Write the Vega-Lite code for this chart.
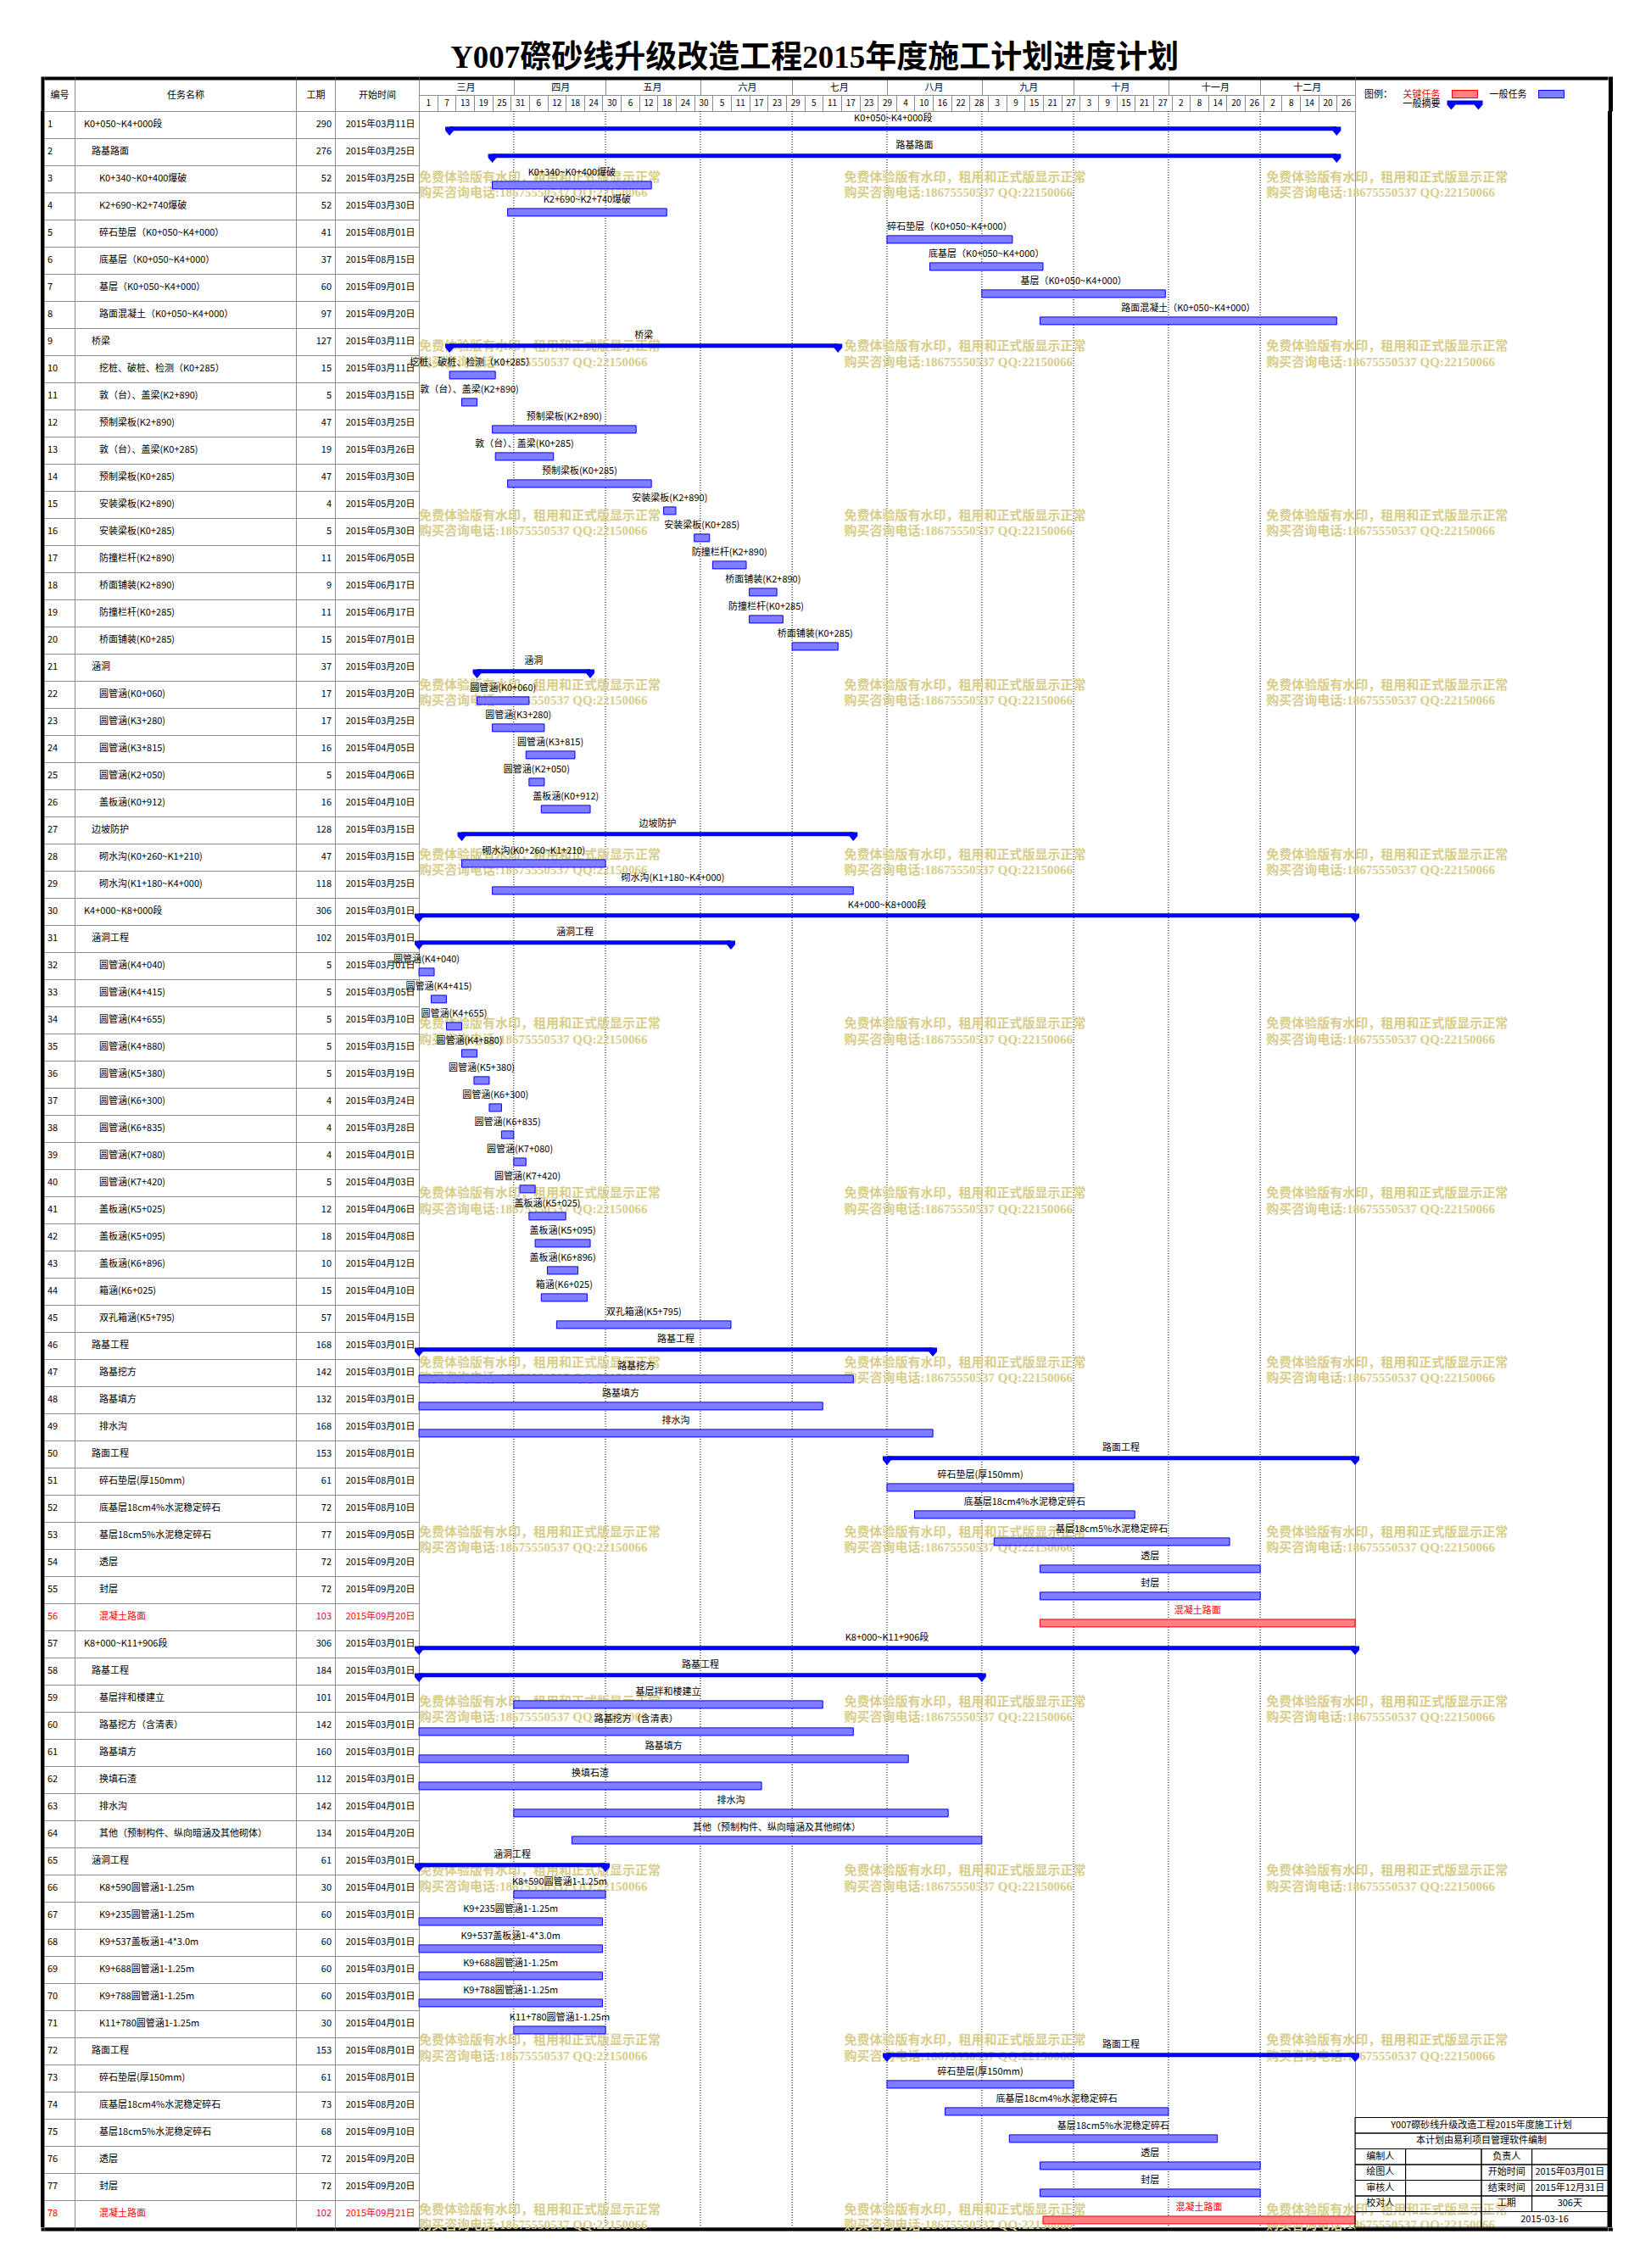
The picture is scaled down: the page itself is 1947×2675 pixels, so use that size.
{
"$schema":"https://vega.github.io/schema/vega-lite/v6.json",
"background":"white",
"padding":{"left":48,"top":49,"right":20,"bottom":20},
"title":{"text":"Y007磜砂线升级改造工程2015年度施工计划进度计划","fontSize":37,"font":"Liberation Serif, Noto Sans CJK SC","fontWeight":"bold","anchor":"middle","offset":0,"dx":-14,"color":"#000000"},
"config":{"font":"Noto Sans CJK SC","view":{"stroke":"#8c8c8c","strokeWidth":1},"concat":{"spacing":0},"text":{"fontSize":11,"color":"#000000"}},
"datasets":{
"tasks":[
{"id":1,"name":"K0+050~K4+000段","dur":290,"start":"2015-03-11","end":"2015-12-26","lvl":0,"kind":"summary"},
{"id":2,"name":"路基路面","dur":276,"start":"2015-03-25","end":"2015-12-26","lvl":1,"kind":"summary"},
{"id":3,"name":"K0+340~K0+400爆破","dur":52,"start":"2015-03-25","end":"2015-05-16","lvl":2,"kind":"task"},
{"id":4,"name":"K2+690~K2+740爆破","dur":52,"start":"2015-03-30","end":"2015-05-21","lvl":2,"kind":"task"},
{"id":5,"name":"碎石垫层（K0+050~K4+000）","dur":41,"start":"2015-08-01","end":"2015-09-11","lvl":2,"kind":"task"},
{"id":6,"name":"底基层（K0+050~K4+000）","dur":37,"start":"2015-08-15","end":"2015-09-21","lvl":2,"kind":"task"},
{"id":7,"name":"基层（K0+050~K4+000）","dur":60,"start":"2015-09-01","end":"2015-10-31","lvl":2,"kind":"task"},
{"id":8,"name":"路面混凝土（K0+050~K4+000）","dur":97,"start":"2015-09-20","end":"2015-12-26","lvl":2,"kind":"task"},
{"id":9,"name":"桥梁","dur":127,"start":"2015-03-11","end":"2015-07-16","lvl":1,"kind":"summary"},
{"id":10,"name":"挖桩、破桩、检测（K0+285）","dur":15,"start":"2015-03-11","end":"2015-03-26","lvl":2,"kind":"task"},
{"id":11,"name":"敦（台）、盖梁(K2+890)","dur":5,"start":"2015-03-15","end":"2015-03-20","lvl":2,"kind":"task"},
{"id":12,"name":"预制梁板(K2+890)","dur":47,"start":"2015-03-25","end":"2015-05-11","lvl":2,"kind":"task"},
{"id":13,"name":"敦（台）、盖梁(K0+285)","dur":19,"start":"2015-03-26","end":"2015-04-14","lvl":2,"kind":"task"},
{"id":14,"name":"预制梁板(K0+285)","dur":47,"start":"2015-03-30","end":"2015-05-16","lvl":2,"kind":"task"},
{"id":15,"name":"安装梁板(K2+890)","dur":4,"start":"2015-05-20","end":"2015-05-24","lvl":2,"kind":"task"},
{"id":16,"name":"安装梁板(K0+285)","dur":5,"start":"2015-05-30","end":"2015-06-04","lvl":2,"kind":"task"},
{"id":17,"name":"防撞栏杆(K2+890)","dur":11,"start":"2015-06-05","end":"2015-06-16","lvl":2,"kind":"task"},
{"id":18,"name":"桥面铺装(K2+890)","dur":9,"start":"2015-06-17","end":"2015-06-26","lvl":2,"kind":"task"},
{"id":19,"name":"防撞栏杆(K0+285)","dur":11,"start":"2015-06-17","end":"2015-06-28","lvl":2,"kind":"task"},
{"id":20,"name":"桥面铺装(K0+285)","dur":15,"start":"2015-07-01","end":"2015-07-16","lvl":2,"kind":"task"},
{"id":21,"name":"涵洞","dur":37,"start":"2015-03-20","end":"2015-04-26","lvl":1,"kind":"summary"},
{"id":22,"name":"圆管涵(K0+060)","dur":17,"start":"2015-03-20","end":"2015-04-06","lvl":2,"kind":"task"},
{"id":23,"name":"圆管涵(K3+280)","dur":17,"start":"2015-03-25","end":"2015-04-11","lvl":2,"kind":"task"},
{"id":24,"name":"圆管涵(K3+815)","dur":16,"start":"2015-04-05","end":"2015-04-21","lvl":2,"kind":"task"},
{"id":25,"name":"圆管涵(K2+050)","dur":5,"start":"2015-04-06","end":"2015-04-11","lvl":2,"kind":"task"},
{"id":26,"name":"盖板涵(K0+912)","dur":16,"start":"2015-04-10","end":"2015-04-26","lvl":2,"kind":"task"},
{"id":27,"name":"边坡防护","dur":128,"start":"2015-03-15","end":"2015-07-21","lvl":1,"kind":"summary"},
{"id":28,"name":"砌水沟(K0+260~K1+210)","dur":47,"start":"2015-03-15","end":"2015-05-01","lvl":2,"kind":"task"},
{"id":29,"name":"砌水沟(K1+180~K4+000)","dur":118,"start":"2015-03-25","end":"2015-07-21","lvl":2,"kind":"task"},
{"id":30,"name":"K4+000~K8+000段","dur":306,"start":"2015-03-01","end":"2016-01-01","lvl":0,"kind":"summary"},
{"id":31,"name":"涵洞工程","dur":102,"start":"2015-03-01","end":"2015-06-11","lvl":1,"kind":"summary"},
{"id":32,"name":"圆管涵(K4+040)","dur":5,"start":"2015-03-01","end":"2015-03-06","lvl":2,"kind":"task"},
{"id":33,"name":"圆管涵(K4+415)","dur":5,"start":"2015-03-05","end":"2015-03-10","lvl":2,"kind":"task"},
{"id":34,"name":"圆管涵(K4+655)","dur":5,"start":"2015-03-10","end":"2015-03-15","lvl":2,"kind":"task"},
{"id":35,"name":"圆管涵(K4+880)","dur":5,"start":"2015-03-15","end":"2015-03-20","lvl":2,"kind":"task"},
{"id":36,"name":"圆管涵(K5+380)","dur":5,"start":"2015-03-19","end":"2015-03-24","lvl":2,"kind":"task"},
{"id":37,"name":"圆管涵(K6+300)","dur":4,"start":"2015-03-24","end":"2015-03-28","lvl":2,"kind":"task"},
{"id":38,"name":"圆管涵(K6+835)","dur":4,"start":"2015-03-28","end":"2015-04-01","lvl":2,"kind":"task"},
{"id":39,"name":"圆管涵(K7+080)","dur":4,"start":"2015-04-01","end":"2015-04-05","lvl":2,"kind":"task"},
{"id":40,"name":"圆管涵(K7+420)","dur":5,"start":"2015-04-03","end":"2015-04-08","lvl":2,"kind":"task"},
{"id":41,"name":"盖板涵(K5+025)","dur":12,"start":"2015-04-06","end":"2015-04-18","lvl":2,"kind":"task"},
{"id":42,"name":"盖板涵(K5+095)","dur":18,"start":"2015-04-08","end":"2015-04-26","lvl":2,"kind":"task"},
{"id":43,"name":"盖板涵(K6+896)","dur":10,"start":"2015-04-12","end":"2015-04-22","lvl":2,"kind":"task"},
{"id":44,"name":"箱涵(K6+025)","dur":15,"start":"2015-04-10","end":"2015-04-25","lvl":2,"kind":"task"},
{"id":45,"name":"双孔箱涵(K5+795)","dur":57,"start":"2015-04-15","end":"2015-06-11","lvl":2,"kind":"task"},
{"id":46,"name":"路基工程","dur":168,"start":"2015-03-01","end":"2015-08-16","lvl":1,"kind":"summary"},
{"id":47,"name":"路基挖方","dur":142,"start":"2015-03-01","end":"2015-07-21","lvl":2,"kind":"task"},
{"id":48,"name":"路基填方","dur":132,"start":"2015-03-01","end":"2015-07-11","lvl":2,"kind":"task"},
{"id":49,"name":"排水沟","dur":168,"start":"2015-03-01","end":"2015-08-16","lvl":2,"kind":"task"},
{"id":50,"name":"路面工程","dur":153,"start":"2015-08-01","end":"2016-01-01","lvl":1,"kind":"summary"},
{"id":51,"name":"碎石垫层(厚150mm)","dur":61,"start":"2015-08-01","end":"2015-10-01","lvl":2,"kind":"task"},
{"id":52,"name":"底基层18cm4%水泥稳定碎石","dur":72,"start":"2015-08-10","end":"2015-10-21","lvl":2,"kind":"task"},
{"id":53,"name":"基层18cm5%水泥稳定碎石","dur":77,"start":"2015-09-05","end":"2015-11-21","lvl":2,"kind":"task"},
{"id":54,"name":"透层","dur":72,"start":"2015-09-20","end":"2015-12-01","lvl":2,"kind":"task"},
{"id":55,"name":"封层","dur":72,"start":"2015-09-20","end":"2015-12-01","lvl":2,"kind":"task"},
{"id":56,"name":"混凝土路面","dur":103,"start":"2015-09-20","end":"2016-01-01","lvl":2,"kind":"critical"},
{"id":57,"name":"K8+000~K11+906段","dur":306,"start":"2015-03-01","end":"2016-01-01","lvl":0,"kind":"summary"},
{"id":58,"name":"路基工程","dur":184,"start":"2015-03-01","end":"2015-09-01","lvl":1,"kind":"summary"},
{"id":59,"name":"基层拌和楼建立","dur":101,"start":"2015-04-01","end":"2015-07-11","lvl":2,"kind":"task"},
{"id":60,"name":"路基挖方（含清表）","dur":142,"start":"2015-03-01","end":"2015-07-21","lvl":2,"kind":"task"},
{"id":61,"name":"路基填方","dur":160,"start":"2015-03-01","end":"2015-08-08","lvl":2,"kind":"task"},
{"id":62,"name":"换填石渣","dur":112,"start":"2015-03-01","end":"2015-06-21","lvl":2,"kind":"task"},
{"id":63,"name":"排水沟","dur":142,"start":"2015-04-01","end":"2015-08-21","lvl":2,"kind":"task"},
{"id":64,"name":"其他（预制构件、纵向暗涵及其他砌体）","dur":134,"start":"2015-04-20","end":"2015-09-01","lvl":2,"kind":"task"},
{"id":65,"name":"涵洞工程","dur":61,"start":"2015-03-01","end":"2015-05-01","lvl":1,"kind":"summary"},
{"id":66,"name":"K8+590圆管涵1-1.25m","dur":30,"start":"2015-04-01","end":"2015-05-01","lvl":2,"kind":"task"},
{"id":67,"name":"K9+235圆管涵1-1.25m","dur":60,"start":"2015-03-01","end":"2015-04-30","lvl":2,"kind":"task"},
{"id":68,"name":"K9+537盖板涵1-4*3.0m","dur":60,"start":"2015-03-01","end":"2015-04-30","lvl":2,"kind":"task"},
{"id":69,"name":"K9+688圆管涵1-1.25m","dur":60,"start":"2015-03-01","end":"2015-04-30","lvl":2,"kind":"task"},
{"id":70,"name":"K9+788圆管涵1-1.25m","dur":60,"start":"2015-03-01","end":"2015-04-30","lvl":2,"kind":"task"},
{"id":71,"name":"K11+780圆管涵1-1.25m","dur":30,"start":"2015-04-01","end":"2015-05-01","lvl":2,"kind":"task"},
{"id":72,"name":"路面工程","dur":153,"start":"2015-08-01","end":"2016-01-01","lvl":1,"kind":"summary"},
{"id":73,"name":"碎石垫层(厚150mm)","dur":61,"start":"2015-08-01","end":"2015-10-01","lvl":2,"kind":"task"},
{"id":74,"name":"底基层18cm4%水泥稳定碎石","dur":73,"start":"2015-08-20","end":"2015-11-01","lvl":2,"kind":"task"},
{"id":75,"name":"基层18cm5%水泥稳定碎石","dur":68,"start":"2015-09-10","end":"2015-11-17","lvl":2,"kind":"task"},
{"id":76,"name":"透层","dur":72,"start":"2015-09-20","end":"2015-12-01","lvl":2,"kind":"task"},
{"id":77,"name":"封层","dur":72,"start":"2015-09-20","end":"2015-12-01","lvl":2,"kind":"task"},
{"id":78,"name":"混凝土路面","dur":102,"start":"2015-09-21","end":"2016-01-01","lvl":2,"kind":"critical"}
],
"months":[
{"m":"2015-03-01","n":"三月"},{"m":"2015-04-01","n":"四月"},{"m":"2015-05-01","n":"五月"},{"m":"2015-06-01","n":"六月"},{"m":"2015-07-01","n":"七月"},
{"m":"2015-08-01","n":"八月"},{"m":"2015-09-01","n":"九月"},{"m":"2015-10-01","n":"十月"},{"m":"2015-11-01","n":"十一月"},{"m":"2015-12-01","n":"十二月"}
],
"wm":[
{"c":"2015-03-01","i":1},{"c":"2015-03-01","i":2},{"c":"2015-03-01","i":3},{"c":"2015-03-01","i":4},{"c":"2015-03-01","i":5},{"c":"2015-03-01","i":6},{"c":"2015-03-01","i":7},{"c":"2015-03-01","i":8},{"c":"2015-03-01","i":9},{"c":"2015-03-01","i":10},{"c":"2015-03-01","i":11},{"c":"2015-03-01","i":12},{"c":"2015-03-01","i":13},
{"c":"2015-07-18","i":1},{"c":"2015-07-18","i":2},{"c":"2015-07-18","i":3},{"c":"2015-07-18","i":4},{"c":"2015-07-18","i":5},{"c":"2015-07-18","i":6},{"c":"2015-07-18","i":7},{"c":"2015-07-18","i":8},{"c":"2015-07-18","i":9},{"c":"2015-07-18","i":10},{"c":"2015-07-18","i":11},{"c":"2015-07-18","i":12},{"c":"2015-07-18","i":13},
{"c":"2015-12-03","i":1},{"c":"2015-12-03","i":2},{"c":"2015-12-03","i":3},{"c":"2015-12-03","i":4},{"c":"2015-12-03","i":5},{"c":"2015-12-03","i":6},{"c":"2015-12-03","i":7},{"c":"2015-12-03","i":8},{"c":"2015-12-03","i":9},{"c":"2015-12-03","i":10},{"c":"2015-12-03","i":11},{"c":"2015-12-03","i":12},{"c":"2015-12-03","i":13}
],
"ib":[
{"t":"Y007磜砂线升级改造工程2015年度施工计划","c0":0,"c1":10,"r0":0,"r1":1},
{"t":"本计划由易利项目管理软件编制","c0":0,"c1":10,"r0":1,"r1":2},
{"t":"编制人","c0":0,"c1":2,"r0":2,"r1":3},{"t":"","c0":2,"c1":5,"r0":2,"r1":3},{"t":"负责人","c0":5,"c1":7,"r0":2,"r1":3},{"t":"","c0":7,"c1":10,"r0":2,"r1":3},
{"t":"绘图人","c0":0,"c1":2,"r0":3,"r1":4},{"t":"","c0":2,"c1":5,"r0":3,"r1":4},{"t":"开始时间","c0":5,"c1":7,"r0":3,"r1":4},{"t":"2015年03月01日","c0":7,"c1":10,"r0":3,"r1":4},
{"t":"审核人","c0":0,"c1":2,"r0":4,"r1":5},{"t":"","c0":2,"c1":5,"r0":4,"r1":5},{"t":"结束时间","c0":5,"c1":7,"r0":4,"r1":5},{"t":"2015年12月31日","c0":7,"c1":10,"r0":4,"r1":5},
{"t":"校对人","c0":0,"c1":2,"r0":5,"r1":6},{"t":"","c0":2,"c1":5,"r0":5,"r1":6},{"t":"工期","c0":5,"c1":7,"r0":5,"r1":6},{"t":"306天","c0":7,"c1":10,"r0":5,"r1":6},
{"t":"","c0":0,"c1":5,"r0":6,"r1":7},{"t":"2015-03-16","c0":5,"c1":10,"r0":6,"r1":7}
]
},
"bounds":"flush",
"spacing":0,
"hconcat":[
{"width":4,"height":2496,"view":{"fill":"#000000","stroke":null},"data":{"values":[{}]},
 "layer":[
  {"mark":{"type":"rule","opacity":0},"encoding":{"x":{"datum":0,"type":"quantitative","scale":{"domain":[0,1],"nice":false,"zero":false},"axis":{"orient":"top","values":[0.5],"ticks":true,"tickSize":41,"tickWidth":4,"tickColor":"#000000","labels":false,"domain":false,"title":null,"grid":false}}}},
  {"mark":{"type":"rule","opacity":0},"encoding":{"x":{"datum":0,"type":"quantitative","scale":{"domain":[0,1],"nice":false,"zero":false},"axis":{"orient":"bottom","values":[0.5],"ticks":true,"tickSize":4,"tickWidth":4,"tickColor":"#000000","labels":false,"domain":false,"title":null,"grid":false}}}}
 ],
 "resolve":{"scale":{"x":"independent"},"axis":{"x":"independent"}}},
{"width":36,"height":2496,
 "layer":[
  {"data":{"name":"tasks"},"mark":{"type":"text","align":"left","dx":-14},
   "encoding":{"y":{"field":"id","type":"ordinal","scale":{"type":"band","paddingInner":0,"paddingOuter":0},"axis":{"grid":true,"tickBand":"extent","gridColor":"#8c8c8c","labels":false,"ticks":false,"domain":false,"title":null}},
   "text":{"field":"id"},"color":{"condition":{"test":"datum.kind === 'critical'","value":"#ff0000"},"value":"#000000"}}},
  {"data":{"values":[{}]},"mark":{"type":"rule","opacity":0},"encoding":{"x":{"datum":0,"type":"quantitative","scale":{"domain":[0,1],"nice":false,"zero":false},"axis":{"orient":"top","title":"编号","titleFontSize":11,"titleFontWeight":"normal","titleColor":"#000000","titleBaseline":"middle","titleAlign":"center","titleAnchor":"middle","titleY":-18.5,"values":[0,1],"labels":false,"ticks":true,"tickSize":37,"tickColor":"#8c8c8c","domain":false,"grid":false}}}},
  {"data":{"values":[{}]},"mark":{"type":"rule","opacity":0},"encoding":{"x":{"datum":0,"type":"quantitative","scale":{"domain":[0,1],"nice":false,"zero":false},"axis":{"orient":"top","offset":39,"domain":true,"domainColor":"#000000","domainWidth":4,"ticks":false,"labels":false,"title":null,"grid":false}}}},
  {"data":{"values":[{}]},"mark":{"type":"rule","opacity":0},"encoding":{"x":{"datum":0,"type":"quantitative","scale":{"domain":[0,1],"nice":false,"zero":false},"axis":{"orient":"bottom","offset":2,"domain":true,"domainColor":"#000000","domainWidth":4,"ticks":false,"labels":false,"title":null,"grid":false}}}}
 ],
 "resolve":{"scale":{"x":"independent"},"axis":{"x":"independent"}}},
{"width":261,"height":2496,
 "layer":[
  {"data":{"name":"tasks"},
   "encoding":{"y":{"field":"id","type":"ordinal","scale":{"type":"band","paddingInner":0,"paddingOuter":0},"axis":{"grid":true,"tickBand":"extent","gridColor":"#8c8c8c","labels":false,"ticks":false,"domain":false,"title":null}},
   "text":{"field":"name"},"color":{"condition":{"test":"datum.kind === 'critical'","value":"#ff0000"},"value":"#000000"}},
   "layer":[
    {"transform":[{"filter":"datum.lvl === 0"}],"mark":{"type":"text","align":"left","dx":-119.5}},
    {"transform":[{"filter":"datum.lvl === 1"}],"mark":{"type":"text","align":"left","dx":-110.5}},
    {"transform":[{"filter":"datum.lvl === 2"}],"mark":{"type":"text","align":"left","dx":-101.5}}
   ]},
  {"data":{"values":[{}]},"mark":{"type":"rule","opacity":0},"encoding":{"x":{"datum":0,"type":"quantitative","scale":{"domain":[0,1],"nice":false,"zero":false},"axis":{"orient":"top","title":"任务名称","titleFontSize":11,"titleFontWeight":"normal","titleColor":"#000000","titleBaseline":"middle","titleAlign":"center","titleAnchor":"middle","titleY":-18.5,"values":[0,1],"labels":false,"ticks":true,"tickSize":37,"tickColor":"#8c8c8c","domain":false,"grid":false}}}},
  {"data":{"values":[{}]},"mark":{"type":"rule","opacity":0},"encoding":{"x":{"datum":0,"type":"quantitative","scale":{"domain":[0,1],"nice":false,"zero":false},"axis":{"orient":"top","offset":39,"domain":true,"domainColor":"#000000","domainWidth":4,"ticks":false,"labels":false,"title":null,"grid":false}}}},
  {"data":{"values":[{}]},"mark":{"type":"rule","opacity":0},"encoding":{"x":{"datum":0,"type":"quantitative","scale":{"domain":[0,1],"nice":false,"zero":false},"axis":{"orient":"bottom","offset":2,"domain":true,"domainColor":"#000000","domainWidth":4,"ticks":false,"labels":false,"title":null,"grid":false}}}}
 ],
 "resolve":{"scale":{"x":"independent"},"axis":{"x":"independent"}}},
{"width":46,"height":2496,
 "layer":[
  {"data":{"name":"tasks"},"mark":{"type":"text","align":"right","dx":19},
   "encoding":{"y":{"field":"id","type":"ordinal","scale":{"type":"band","paddingInner":0,"paddingOuter":0},"axis":{"grid":true,"tickBand":"extent","gridColor":"#8c8c8c","labels":false,"ticks":false,"domain":false,"title":null}},
   "text":{"field":"dur"},"color":{"condition":{"test":"datum.kind === 'critical'","value":"#ff0000"},"value":"#000000"}}},
  {"data":{"values":[{}]},"mark":{"type":"rule","opacity":0},"encoding":{"x":{"datum":0,"type":"quantitative","scale":{"domain":[0,1],"nice":false,"zero":false},"axis":{"orient":"top","title":"工期","titleFontSize":11,"titleFontWeight":"normal","titleColor":"#000000","titleBaseline":"middle","titleAlign":"center","titleAnchor":"middle","titleY":-18.5,"values":[0,1],"labels":false,"ticks":true,"tickSize":37,"tickColor":"#8c8c8c","domain":false,"grid":false}}}},
  {"data":{"values":[{}]},"mark":{"type":"rule","opacity":0},"encoding":{"x":{"datum":0,"type":"quantitative","scale":{"domain":[0,1],"nice":false,"zero":false},"axis":{"orient":"top","offset":39,"domain":true,"domainColor":"#000000","domainWidth":4,"ticks":false,"labels":false,"title":null,"grid":false}}}},
  {"data":{"values":[{}]},"mark":{"type":"rule","opacity":0},"encoding":{"x":{"datum":0,"type":"quantitative","scale":{"domain":[0,1],"nice":false,"zero":false},"axis":{"orient":"bottom","offset":2,"domain":true,"domainColor":"#000000","domainWidth":4,"ticks":false,"labels":false,"title":null,"grid":false}}}}
 ],
 "resolve":{"scale":{"x":"independent"},"axis":{"x":"independent"}}},
{"width":99,"height":2496,
 "layer":[
  {"data":{"name":"tasks","format":{"parse":{"start":"date","end":"date"}}},"mark":{"type":"text","align":"right","dx":45},
   "encoding":{"y":{"field":"id","type":"ordinal","scale":{"type":"band","paddingInner":0,"paddingOuter":0},"axis":{"grid":true,"tickBand":"extent","gridColor":"#8c8c8c","labels":false,"ticks":false,"domain":false,"title":null}},
   "text":{"field":"start","type":"temporal","timeUnit":"utcyearmonthdate","format":"%Y年%m月%d日"},"color":{"condition":{"test":"datum.kind === 'critical'","value":"#ff0000"},"value":"#000000"}}},
  {"data":{"values":[{}]},"mark":{"type":"rule","opacity":0},"encoding":{"x":{"datum":0,"type":"quantitative","scale":{"domain":[0,1],"nice":false,"zero":false},"axis":{"orient":"top","title":"开始时间","titleFontSize":11,"titleFontWeight":"normal","titleColor":"#000000","titleBaseline":"middle","titleAlign":"center","titleAnchor":"middle","titleY":-18.5,"values":[0,1],"labels":false,"ticks":true,"tickSize":37,"tickColor":"#8c8c8c","domain":false,"grid":false}}}},
  {"data":{"values":[{}]},"mark":{"type":"rule","opacity":0},"encoding":{"x":{"datum":0,"type":"quantitative","scale":{"domain":[0,1],"nice":false,"zero":false},"axis":{"orient":"top","offset":39,"domain":true,"domainColor":"#000000","domainWidth":4,"ticks":false,"labels":false,"title":null,"grid":false}}}},
  {"data":{"values":[{}]},"mark":{"type":"rule","opacity":0},"encoding":{"x":{"datum":0,"type":"quantitative","scale":{"domain":[0,1],"nice":false,"zero":false},"axis":{"orient":"bottom","offset":2,"domain":true,"domainColor":"#000000","domainWidth":4,"ticks":false,"labels":false,"title":null,"grid":false}}}}
 ],
 "resolve":{"scale":{"x":"independent"},"axis":{"x":"independent"}}},
{"width":1104,"height":2496,
 "layer":[
  {"data":{"values":[{}]},"mark":{"type":"rule","opacity":0},"encoding":{"x":{"datum":{"year":2015,"month":3,"date":1,"utc":true},"type":"temporal","scale":{"type":"utc","nice":false,"domain":[{"year":2015,"month":3,"date":1,"utc":true},{"year":2016,"month":1,"date":1,"utc":true}]},
   "axis":{"orient":"top","values":[
    {"year":2015,"month":3,"date":1,"utc":true},{"year":2015,"month":3,"date":7,"utc":true},{"year":2015,"month":3,"date":13,"utc":true},{"year":2015,"month":3,"date":19,"utc":true},{"year":2015,"month":3,"date":25,"utc":true},{"year":2015,"month":3,"date":31,"utc":true},
    {"year":2015,"month":4,"date":6,"utc":true},{"year":2015,"month":4,"date":12,"utc":true},{"year":2015,"month":4,"date":18,"utc":true},{"year":2015,"month":4,"date":24,"utc":true},{"year":2015,"month":4,"date":30,"utc":true},
    {"year":2015,"month":5,"date":6,"utc":true},{"year":2015,"month":5,"date":12,"utc":true},{"year":2015,"month":5,"date":18,"utc":true},{"year":2015,"month":5,"date":24,"utc":true},{"year":2015,"month":5,"date":30,"utc":true},
    {"year":2015,"month":6,"date":5,"utc":true},{"year":2015,"month":6,"date":11,"utc":true},{"year":2015,"month":6,"date":17,"utc":true},{"year":2015,"month":6,"date":23,"utc":true},{"year":2015,"month":6,"date":29,"utc":true},
    {"year":2015,"month":7,"date":5,"utc":true},{"year":2015,"month":7,"date":11,"utc":true},{"year":2015,"month":7,"date":17,"utc":true},{"year":2015,"month":7,"date":23,"utc":true},{"year":2015,"month":7,"date":29,"utc":true},
    {"year":2015,"month":8,"date":4,"utc":true},{"year":2015,"month":8,"date":10,"utc":true},{"year":2015,"month":8,"date":16,"utc":true},{"year":2015,"month":8,"date":22,"utc":true},{"year":2015,"month":8,"date":28,"utc":true},
    {"year":2015,"month":9,"date":3,"utc":true},{"year":2015,"month":9,"date":9,"utc":true},{"year":2015,"month":9,"date":15,"utc":true},{"year":2015,"month":9,"date":21,"utc":true},{"year":2015,"month":9,"date":27,"utc":true},
    {"year":2015,"month":10,"date":3,"utc":true},{"year":2015,"month":10,"date":9,"utc":true},{"year":2015,"month":10,"date":15,"utc":true},{"year":2015,"month":10,"date":21,"utc":true},{"year":2015,"month":10,"date":27,"utc":true},
    {"year":2015,"month":11,"date":2,"utc":true},{"year":2015,"month":11,"date":8,"utc":true},{"year":2015,"month":11,"date":14,"utc":true},{"year":2015,"month":11,"date":20,"utc":true},{"year":2015,"month":11,"date":26,"utc":true},
    {"year":2015,"month":12,"date":2,"utc":true},{"year":2015,"month":12,"date":8,"utc":true},{"year":2015,"month":12,"date":14,"utc":true},{"year":2015,"month":12,"date":20,"utc":true},{"year":2015,"month":12,"date":26,"utc":true},
    {"year":2016,"month":1,"date":1,"utc":true}],
    "labelExpr":"utcyear(datum.value) > 2015 ? '' : '' + utcdate(datum.value)","tickSize":19,"tickColor":"#8c8c8c","tickWidth":1,"domain":false,"grid":false,"labelFontSize":10,"labelColor":"#000000","labelOffset":10.8,"labelPadding":-9.5,"labelBaseline":"middle","labelAlign":"center","labelAngle":0,"labelOverlap":false,"labelBound":false,"labelFlush":false,"title":null}}}},
  {"data":{"values":[{}]},"mark":{"type":"rule","opacity":0},"encoding":{"x":{"datum":{"year":2015,"month":3,"date":1,"utc":true},"type":"temporal","scale":{"type":"utc","nice":false,"domain":[{"year":2015,"month":3,"date":1,"utc":true},{"year":2016,"month":1,"date":1,"utc":true}]},
   "axis":{"orient":"top","offset":19,"values":[
    {"year":2015,"month":3,"date":1,"utc":true},{"year":2015,"month":4,"date":1,"utc":true},{"year":2015,"month":5,"date":1,"utc":true},{"year":2015,"month":6,"date":1,"utc":true},{"year":2015,"month":7,"date":1,"utc":true},
    {"year":2015,"month":8,"date":1,"utc":true},{"year":2015,"month":9,"date":1,"utc":true},{"year":2015,"month":10,"date":1,"utc":true},{"year":2015,"month":11,"date":1,"utc":true},{"year":2015,"month":12,"date":1,"utc":true},
    {"year":2016,"month":1,"date":1,"utc":true}],
    "labelExpr":"utcyear(datum.value) > 2015 ? '' : ['一月','二月','三月','四月','五月','六月','七月','八月','九月','十月','十一月','十二月'][utcmonth(datum.value)]",
    "tickSize":18,"tickColor":"#8c8c8c","tickWidth":1,"domain":true,"domainColor":"#8c8c8c","domainWidth":1,"grid":false,"labelFontSize":11,"labelColor":"#000000","labelOffset":55,"labelPadding":-9,"labelBaseline":"middle","labelAlign":"center","labelAngle":0,"labelOverlap":false,"labelBound":false,"labelFlush":false,"title":null}}}},
  {"data":{"values":[{}]},"mark":{"type":"rule","opacity":0},"encoding":{"x":{"datum":{"year":2015,"month":3,"date":1,"utc":true},"type":"temporal","scale":{"type":"utc","nice":false,"domain":[{"year":2015,"month":3,"date":1,"utc":true},{"year":2016,"month":1,"date":1,"utc":true}]},"axis":{"orient":"top","offset":39,"domain":true,"domainColor":"#000000","domainWidth":4,"ticks":false,"labels":false,"title":null,"grid":false}}}},
  {"data":{"values":[{}]},"mark":{"type":"rule","opacity":0},"encoding":{"x":{"datum":{"year":2015,"month":3,"date":1,"utc":true},"type":"temporal","scale":{"type":"utc","nice":false,"domain":[{"year":2015,"month":3,"date":1,"utc":true},{"year":2016,"month":1,"date":1,"utc":true}]},"axis":{"orient":"bottom","offset":2,"domain":true,"domainColor":"#000000","domainWidth":4,"ticks":false,"labels":false,"title":null,"grid":false}}}},
  {"data":{"name":"months","format":{"parse":{"m":"date"}}},"transform":[{"filter":"datum.n !== '三月'"}],"mark":{"type":"rule","color":"#000000","strokeDash":[1,2],"strokeWidth":1},
   "encoding":{"x":{"field":"m","type":"temporal","scale":{"type":"utc","nice":false,"domain":[{"year":2015,"month":3,"date":1,"utc":true},{"year":2016,"month":1,"date":1,"utc":true}]},"axis":null}}},
  {"data":{"name":"wm","format":{"parse":{"c":"date"}}},"mark":{"type":"text","align":"left","baseline":"top","fontSize":15,"fontWeight":"bold","font":"Liberation Serif, Noto Sans CJK SC","color":"#d9cd8b","lineBreak":"\n","lineHeight":18.3},
   "encoding":{"x":{"field":"c","type":"temporal","scale":{"type":"utc","nice":false,"domain":[{"year":2015,"month":3,"date":1,"utc":true},{"year":2016,"month":1,"date":1,"utc":true}]},"axis":null},
   "y":{"field":"i","type":"quantitative","scale":{"domain":[0.647,13.14],"reverse":true,"zero":false,"nice":false},"axis":null},
   "text":{"value":"免费体验版有水印，租用和正式版显示正常\n购买咨询电话:18675550537 QQ:22150066"}}},
  {"data":{"name":"tasks","format":{"parse":{"start":"date","end":"date"}}},
   "layer":[
    {"transform":[{"filter":"datum.kind !== 'summary'"}],"mark":{"type":"bar","size":9,"yOffset":7.4,"strokeWidth":1},
     "encoding":{"x":{"field":"start","type":"temporal","scale":{"type":"utc","nice":false,"domain":[{"year":2015,"month":3,"date":1,"utc":true},{"year":2016,"month":1,"date":1,"utc":true}]},"axis":null},"x2":{"field":"end"},
     "y":{"field":"id","type":"ordinal","scale":{"type":"band","paddingInner":0,"paddingOuter":0},"axis":null},
     "fill":{"condition":{"test":"datum.kind === 'critical'","value":"#ff8080"},"value":"#8080ff"},
     "stroke":{"condition":{"test":"datum.kind === 'critical'","value":"#ff0000"},"value":"#0000ff"}}},
    {"transform":[{"filter":"datum.kind === 'summary'"}],"mark":{"type":"bar","size":5,"yOffset":4.75,"color":"#0000ff"},
     "encoding":{"x":{"field":"start","type":"temporal","scale":{"type":"utc","nice":false,"domain":[{"year":2015,"month":3,"date":1,"utc":true},{"year":2016,"month":1,"date":1,"utc":true}]},"axis":null},"x2":{"field":"end"},
     "y":{"field":"id","type":"ordinal","scale":{"type":"band","paddingInner":0,"paddingOuter":0},"axis":null}}},
    {"transform":[{"filter":"datum.kind === 'summary'"},{"fold":["start","end"],"as":["k","d"]}],
     "mark":{"type":"point","shape":"M-1,-0.47H1V0.47L0,1.67L-1,0.47Z","size":100,"filled":true,"color":"#0000ff","opacity":1,"strokeWidth":0,"yOffset":4.75},
     "encoding":{"x":{"field":"d","type":"temporal","scale":{"type":"utc","nice":false,"domain":[{"year":2015,"month":3,"date":1,"utc":true},{"year":2016,"month":1,"date":1,"utc":true}]},"axis":null},
     "y":{"field":"id","type":"ordinal","scale":{"type":"band","paddingInner":0,"paddingOuter":0},"axis":null}}},
    {"transform":[{"fold":["start","end"],"as":["k","d"]},{"aggregate":[{"op":"mean","field":"d","as":"mid"}],"groupby":["id","name","kind"]}],
     "mark":{"type":"text","fontSize":11,"yOffset":-7},
     "encoding":{"x":{"field":"mid","type":"temporal","scale":{"type":"utc","nice":false,"domain":[{"year":2015,"month":3,"date":1,"utc":true},{"year":2016,"month":1,"date":1,"utc":true}]},"axis":null},
     "y":{"field":"id","type":"ordinal","scale":{"type":"band","paddingInner":0,"paddingOuter":0},"axis":null},
     "text":{"field":"name"},"color":{"condition":{"test":"datum.kind === 'critical'","value":"#ff0000"},"value":"#000000"}}}
   ]}
 ],
 "resolve":{"scale":{"x":"independent","y":"independent"},"axis":{"x":"independent"}}},
{"width":298,"height":2496,"view":{"stroke":null},
 "layer":[
  {"data":{"values":[{}]},"mark":{"type":"rule","opacity":0},"encoding":{"x":{"datum":0,"type":"quantitative","scale":{"domain":[0,1],"nice":false,"zero":false},"axis":{"orient":"top","offset":39,"domain":true,"domainColor":"#000000","domainWidth":4,"ticks":false,"labels":false,"title":null,"grid":false}}}},
  {"data":{"values":[{}]},"mark":{"type":"rule","opacity":0},"encoding":{"x":{"datum":0,"type":"quantitative","scale":{"domain":[0,1],"nice":false,"zero":false},"axis":{"orient":"bottom","offset":2,"domain":true,"domainColor":"#000000","domainWidth":4,"ticks":false,"labels":false,"title":null,"grid":false}}}},
  {"data":{"name":"ib"},"mark":{"type":"rect","filled":false,"stroke":"#000000","strokeWidth":1},
   "encoding":{"x":{"field":"c0","type":"quantitative","scale":{"domain":[0,10],"nice":false,"zero":false},"axis":null},"x2":{"field":"c1"},
   "y":{"field":"r0","type":"quantitative","scale":{"domain":[-127.92,7],"reverse":true,"nice":false,"zero":false},"axis":null},"y2":{"field":"r1"}}},
  {"data":{"name":"ib"},"transform":[{"fold":["c0","c1"],"as":["k","v"]},{"aggregate":[{"op":"mean","field":"v","as":"cx"}],"groupby":["t","r0","c0"]}],
   "mark":{"type":"text","fontSize":11,"baseline":"middle","dy":9.25},
   "encoding":{"x":{"field":"cx","type":"quantitative","scale":{"domain":[0,10],"nice":false,"zero":false},"axis":null},
   "y":{"field":"r0","type":"quantitative","scale":{"domain":[-127.92,7],"reverse":true,"nice":false,"zero":false},"axis":null},
   "text":{"field":"t"}}},
  {"data":{"values":[{"t":"图例：","s":"s1","k":"title"},{"t":"关键任务","s":"s2","k":"critical"},{"t":"一般任务","s":"s4","k":"task"}]},
   "mark":{"type":"text","fontSize":11,"baseline":"middle","yOffset":-19.5},
   "encoding":{"x":{"field":"s","type":"nominal","scale":{"type":"band","domain":["s1","s2","s3","s4","s5"],"paddingInner":0,"paddingOuter":0.4216,"align":0.0465},"axis":null},
   "y":{"datum":0,"type":"quantitative","scale":{"domain":[0,1],"reverse":true,"nice":false,"zero":false},"axis":null},
   "text":{"field":"t"},"color":{"condition":{"test":"datum.k === 'critical'","value":"#ff0000"},"value":"#000000"}}},
  {"data":{"values":[{"s":"s3","k":"critical"},{"s":"s5","k":"task"}]},
   "mark":{"type":"point","shape":"M-1,-0.3H1V0.3H-1Z","size":900,"filled":true,"opacity":1,"strokeWidth":1,"yOffset":-20},
   "encoding":{"x":{"field":"s","type":"nominal","scale":{"type":"band","domain":["s1","s2","s3","s4","s5"],"paddingInner":0,"paddingOuter":0.4216,"align":0.0465},"axis":null},
   "y":{"datum":0,"type":"quantitative","scale":{"domain":[0,1],"reverse":true,"nice":false,"zero":false},"axis":null},
   "fill":{"condition":{"test":"datum.k === 'critical'","value":"#ff8080"},"value":"#8080ff"},
   "stroke":{"condition":{"test":"datum.k === 'critical'","value":"#ff0000"},"value":"#0000ff"}}},
  {"data":{"values":[{"t":"一般摘要","s":"s2","k":"summary"}]},
   "mark":{"type":"text","fontSize":11,"baseline":"middle","yOffset":-8.5},
   "encoding":{"x":{"field":"s","type":"nominal","scale":{"type":"band","domain":["s1","s2","s3","s4","s5"],"paddingInner":0,"paddingOuter":0.4216,"align":0.0465},"axis":null},
   "y":{"datum":0,"type":"quantitative","scale":{"domain":[0,1],"reverse":true,"nice":false,"zero":false},"axis":null},
   "text":{"field":"t"}}},
  {"data":{"values":[{"s":"s3","k":"summary"}]},
   "mark":{"type":"point","shape":"M-1,-0.19H1V0.048L0.762,0.333L0.524,0.048H-0.524L-0.762,0.333L-1,0.048Z","size":1764,"filled":true,"color":"#0000ff","opacity":1,"strokeWidth":0,"yOffset":-8.5},
   "encoding":{"x":{"field":"s","type":"nominal","scale":{"type":"band","domain":["s1","s2","s3","s4","s5"],"paddingInner":0,"paddingOuter":0.4216,"align":0.0465},"axis":null},
   "y":{"datum":0,"type":"quantitative","scale":{"domain":[0,1],"reverse":true,"nice":false,"zero":false},"axis":null}}}
 ],
 "resolve":{"scale":{"x":"independent","y":"independent"},"axis":{"x":"independent","y":"independent"}}},
{"width":5,"height":2496,"view":{"fill":"#000000","stroke":null},"data":{"values":[{}]},
 "layer":[
  {"mark":{"type":"rule","opacity":0},"encoding":{"x":{"datum":0,"type":"quantitative","scale":{"domain":[0,1],"nice":false,"zero":false},"axis":{"orient":"top","values":[0.5],"ticks":true,"tickSize":41,"tickWidth":5,"tickColor":"#000000","labels":false,"domain":false,"title":null,"grid":false}}}},
  {"mark":{"type":"rule","opacity":0},"encoding":{"x":{"datum":0,"type":"quantitative","scale":{"domain":[0,1],"nice":false,"zero":false},"axis":{"orient":"bottom","values":[0.5],"ticks":true,"tickSize":4,"tickWidth":5,"tickColor":"#000000","labels":false,"domain":false,"title":null,"grid":false}}}}
 ],
 "resolve":{"scale":{"x":"independent"},"axis":{"x":"independent"}}}
]
}
